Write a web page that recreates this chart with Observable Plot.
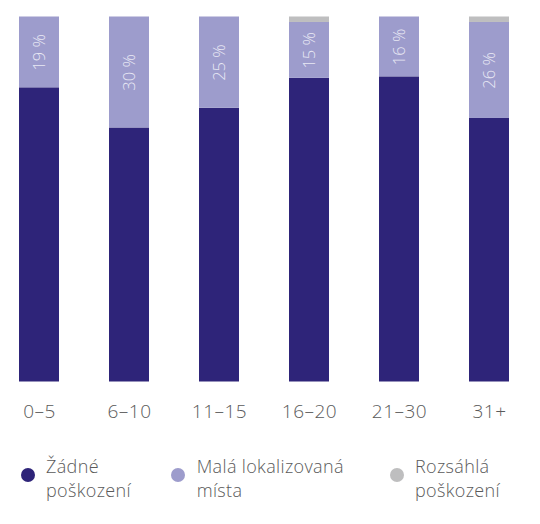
<!DOCTYPE html>
<html>
<head>
<meta charset="utf-8">
<script src="https://cdn.jsdelivr.net/npm/d3@7"></script>
<script src="https://cdn.jsdelivr.net/npm/@observablehq/plot@0.6"></script>
<style>
  body { margin: 0; background: #fff; font-family: "Open Sans", sans-serif; }
  #wrap { position: relative; width: 540px; }
  #legend { position: relative; width: 540px; height: 84px; color: #5a5a5a; font-size: 18px; line-height: 24.5px; font-weight: 300; letter-spacing: 0.35px; }
  .sw { position: absolute; width: 14px; height: 14px; border-radius: 50%; top: 28px; }
  .lt { position: absolute; white-space: nowrap; }
</style>
</head>
<body>
<div id="wrap"><div id="chart"></div><div id="legend"></div></div>
<script>
const categories = ["0–5", "6–10", "11–15", "16–20", "21–30", "31+"];
const seriesNames = ["Žádné poškození", "Malá lokalizovaná místa", "Rozsáhlá poškození"];
const seriesColors = ["#2e2479", "#9d9ccc", "#bebebf"];
const none = [80.6, 69.6, 75.0, 83.2, 83.6, 72.2];   // Žádné poškození
const small = [19.4, 30.4, 25.0, 15.3, 16.4, 26.3];  // Malá lokalizovaná místa
const large = [0, 0, 0, 1.5, 0, 1.5];                // Rozsáhlá poškození

const data = [];
categories.forEach((c, i) => {
  [none, small, large].forEach((arr, s) => {
    data.push({cat: c, series: seriesNames[s], value: arr[i]});
  });
});

const chart = Plot.plot({
  width: 540,
  height: 440,
  marginTop: 16.5,
  marginBottom: 58.5,
  marginLeft: 18.3,
  marginRight: 30.7,
  style: {fontFamily: "Open Sans, sans-serif", background: "#fff"},
  x: {domain: categories, paddingInner: 0.557, paddingOuter: 0, label: null},
  y: {domain: [0, 100], axis: null},
  color: {domain: seriesNames, range: seriesColors},
  marks: [
    Plot.barY(data, Plot.stackY({x: "cat", y: "value", fill: "series", order: seriesNames})),
    Plot.textY(data, Plot.stackY({
      x: "cat", y: "value", z: "series", order: seriesNames,
      text: d => d.series === seriesNames[1] ? Math.round(d.value) + " %" : null,
      rotate: -90, fill: "#e8e8f4", fontSize: 16.5, fontWeight: 300
    })),
    Plot.axisX({tickSize: 0, tickPadding: 22, fontSize: 19, fontWeight: 300, color: "#5a5a5a", label: null})
  ]
});
chart.querySelectorAll("g[font-size='19'] text").forEach(t => t.setAttribute("letter-spacing", "0.5"));
document.getElementById("chart").appendChild(chart);

const legend = document.getElementById("legend");
const swX = [21.3, 170.5, 389.7];
const txX = [46, 196.7, 415];
const legendLines = [["Žádné", "poškození"], ["Malá lokalizovaná", "místa"], ["Rozsáhlá", "poškození"]];
seriesNames.forEach((s, i) => {
  const sw = document.createElement("div");
  sw.className = "sw";
  sw.style.left = swX[i] + "px";
  sw.style.background = seriesColors[i];
  legend.appendChild(sw);
  legendLines[i].forEach((line, j) => {
    const t = document.createElement("div");
    t.className = "lt";
    t.style.left = txX[i] + "px";
    t.style.top = (13.8 + j * 24.5) + "px";
    t.textContent = line;
    legend.appendChild(t);
  });
});
</script>
</body>
</html>
